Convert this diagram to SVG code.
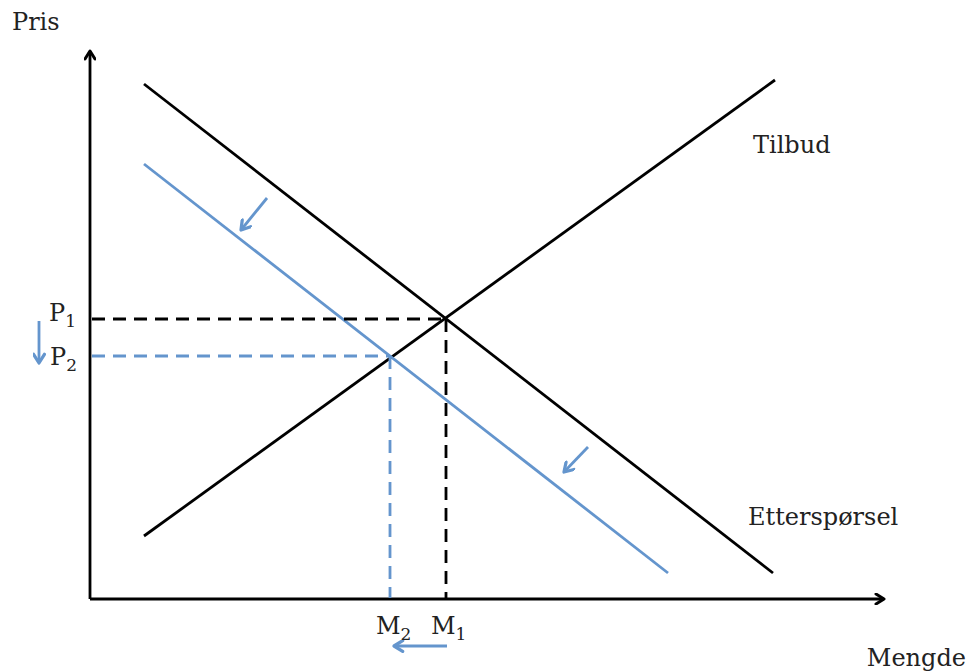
<svg xmlns="http://www.w3.org/2000/svg" width="970" height="671" viewBox="0 0 970 671">
<defs>
<marker id="ah" viewBox="0 0 12 12" refX="10" refY="6" markerWidth="12" markerHeight="12" markerUnits="userSpaceOnUse" orient="auto">
<polyline points="2,1 10,6 2,11" fill="none" stroke="#000" stroke-width="3" stroke-linecap="round" stroke-linejoin="round"/>
</marker>
<marker id="ahb" viewBox="0 0 12 12" refX="10" refY="6" markerWidth="13" markerHeight="13" markerUnits="userSpaceOnUse" orient="auto">
<polyline points="2,1 10,6 2,11" fill="none" stroke="#6495cd" stroke-width="3" stroke-linecap="round" stroke-linejoin="round"/>
</marker>
</defs>
<style>
text{font-family:"DejaVu Serif","Liberation Serif",serif;font-size:24px;fill:#222}
.sub{font-size:17px}
.k{stroke:#000;stroke-width:2.8;fill:none}
.b{stroke:#6495cd;stroke-width:2.8;fill:none}
.dk{stroke:#000;stroke-width:2.8;stroke-dasharray:13 8;fill:none}
.db{stroke:#6495cd;stroke-width:2.8;stroke-dasharray:13 8;fill:none}
</style>
<rect width="970" height="671" fill="#fff"/>
<g id="axes">
<line class="k" x1="90" y1="599" x2="90" y2="51" stroke-width="3.2" marker-end="url(#ah)"/>
<line class="k" x1="90" y1="599" x2="884" y2="599" stroke-width="3.2" marker-end="url(#ah)"/>
</g>
<g id="connectors">
<line class="k" x1="144" y1="84" x2="773" y2="573"/>
<line class="k" x1="144" y1="536" x2="775" y2="80"/>
<line class="b" x1="144" y1="164" x2="668" y2="573"/>
<line class="dk" x1="92" y1="319" x2="444" y2="319"/>
<line class="dk" x1="446" y1="319" x2="446" y2="598"/>
<line class="db" x1="92" y1="356" x2="390" y2="356"/>
<line class="db" x1="390" y1="356" x2="390" y2="598"/>
<line class="b" x1="267" y1="198" x2="241" y2="230" marker-end="url(#ahb)"/>
<line class="b" x1="588" y1="447" x2="564" y2="472" marker-end="url(#ahb)"/>
<line class="b" x1="39" y1="321" x2="39" y2="363" marker-end="url(#ahb)"/>
<line class="b" x1="447" y1="646" x2="394" y2="646" marker-end="url(#ahb)"/>
</g>
<g id="labels">
<text x="12" y="30">Pris</text>
<text x="49" y="321">P<tspan class="sub" dy="6">1</tspan></text>
<text x="50" y="365">P<tspan class="sub" dy="6">2</tspan></text>
<text x="376" y="634">M<tspan class="sub" dy="6">2</tspan></text>
<text x="431" y="634">M<tspan class="sub" dy="6">1</tspan></text>
<text x="753" y="153">Tilbud</text>
<text x="748" y="525">Etterspørsel</text>
<text x="966" y="666" text-anchor="end">Mengde</text>
</g>
</svg>
